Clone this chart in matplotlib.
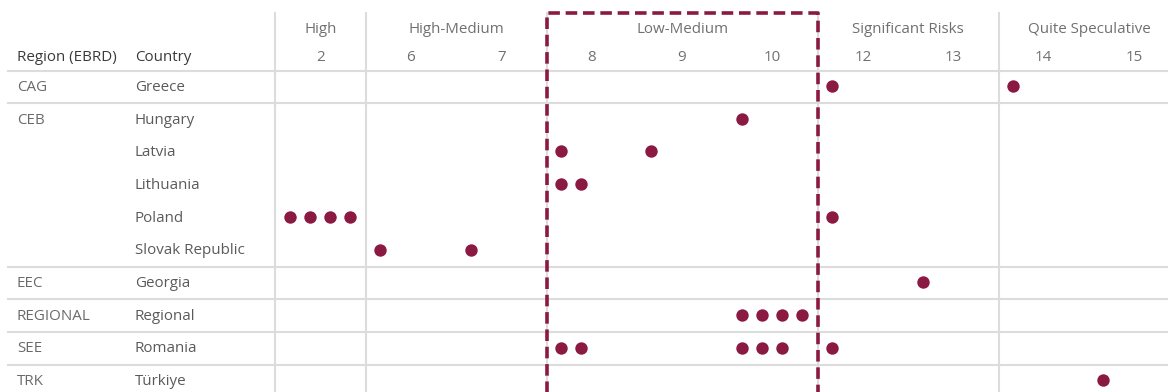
import matplotlib.pyplot as plt
import numpy as np

# rating groups and the sub-ratings under each
groups = ['High', 'High-Medium', 'Low-Medium', 'Significant Risks', 'Quite Speculative']
group_ratings = [[2], [6, 7], [8, 9, 10], [12, 13], [14, 15]]

regions = ['CAG', 'CEB', 'CEB', 'CEB', 'CEB', 'CEB', 'EEC', 'REGIONAL', 'SEE', 'TRK']
countries = ['Greece', 'Hungary', 'Latvia', 'Lithuania', 'Poland', 'Slovak Republic',
             'Georgia', 'Regional', 'Romania', 'Türkiye']

# number of projects per country and rating
counts = {
    'Greece': {12: 1, 14: 1},
    'Hungary': {10: 1},
    'Latvia': {8: 1, 9: 1},
    'Lithuania': {8: 2},
    'Poland': {2: 4, 12: 1},
    'Slovak Republic': {6: 1, 7: 1},
    'Georgia': {13: 1},
    'Regional': {10: 4},
    'Romania': {8: 2, 10: 3, 12: 1},
    'Türkiye': {15: 1},
}

dot_color = '#8a1a42'
grid_color = '#dcdcdc'
plt.rcParams['font.family'] = ['Open Sans', 'DejaVu Sans']
fs = 10.9

fig = plt.figure(figsize=(11.68, 3.92), dpi=100)
ax = fig.add_axes([0, 0, 1, 1])
ax.set_xlim(0, 1168)
ax.set_ylim(392, 0)
ax.axis('off')

# layout (pixels)
col0 = 275.3
col_w = 90.4
row0 = 70.5
row_h = 32.7
top = 13

ratings = [r for g in group_ratings for r in g]
col_left = {r: col0 + i * col_w for i, r in enumerate(ratings)}

# header
ax.text(17, 57, 'Region (EBRD)', fontsize=fs, color='#3a3a3a', va='center')
ax.text(135, 57, 'Country', fontsize=fs, color='#3a3a3a', va='center')
for r in ratings:
    ax.text(col_left[r] + col_w / 2, 57, str(r), fontsize=fs, color='#707070',
            ha='center', va='center')

for g, rs in zip(groups, group_ratings):
    left = col_left[rs[0]]
    ax.text(left + len(rs) * col_w / 2, 29, g, fontsize=fs, color='#707070',
            ha='center', va='center')
    ax.plot([left, left], [top, 392], color=grid_color, lw=1.5, zorder=1)

# horizontal separators between regions
ax.plot([8, 1168], [row0, row0], color=grid_color, lw=1.5, zorder=1)
for k in range(1, len(regions)):
    if regions[k] != regions[k - 1]:
        y = row0 + k * row_h
        ax.plot([8, 1168], [y, y], color=grid_color, lw=1.5, zorder=1)

# row labels and dots
for k, (reg, c) in enumerate(zip(regions, countries)):
    y = row0 + (k + 0.5) * row_h
    if k == 0 or regions[k - 1] != reg:
        ax.text(17, y + 0.5, reg, fontsize=fs, color='#6a6a6a', va='center')
    ax.text(135, y + 0.5, c, fontsize=fs, color='#5a5a5a', va='center')
    for r, n in counts[c].items():
        xs = col_left[r] + 14.5 + 20 * np.arange(n)
        ax.scatter(xs, [y - 0.8] * n, s=80, color=dot_color, linewidths=0, zorder=3)

# dashed box around Low-Medium
lm = group_ratings[2]
x1 = col_left[lm[0]]
x2 = col_left[lm[-1]] + col_w
ax.plot([x1, x1, x2, x2], [400, top, top, 400], color=dot_color, lw=2.6,
        linestyle=(0, (3.2, 1.6)), zorder=4, solid_joinstyle='miter')

fig.savefig('out.png', dpi=100)
